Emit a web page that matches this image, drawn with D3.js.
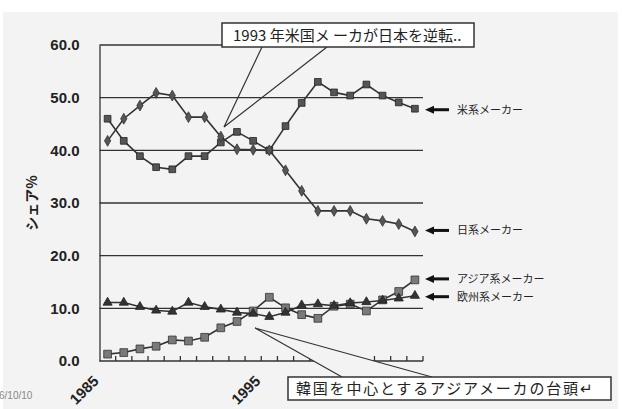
<!DOCTYPE html>
<html>
<head>
<meta charset="utf-8">
<script src="https://cdn.jsdelivr.net/npm/d3@7"></script>
<style>
  body { margin: 0; background: #fff; }
  svg text { font-family: "Liberation Sans", Arial, sans-serif; }
  .jp { font-family: "Noto Sans CJK JP", sans-serif; }
</style>
</head>
<body>
<div id="chart"></div>
<script>
// years on the category axis
var years = [1985, 1986, 1987, 1988, 1989, 1990, 1991, 1992, 1993, 1994,
             1995, 1996, 1997, 1998, 1999, 2000, 2001, 2002, 2003, 2004];
var yearLabels = {1985: "1985", 1995: "1995"};

// share (%) per maker group
var usShare     = [46.0, 41.8, 38.9, 36.8, 36.4, 38.9, 38.9, 41.5, 43.5, 41.8,
                   40.0, 44.6, 49.0, 53.0, 51.0, 50.4, 52.5, 50.4, 49.1, 47.9];
var japanShare  = [41.8, 46.0, 48.5, 50.9, 50.4, 46.3, 46.3, 42.6, 40.2, 40.1,
                   40.0, 36.2, 32.3, 28.5, 28.5, 28.5, 27.0, 26.6, 26.0, 24.6];
var asiaShare   = [1.3, 1.6, 2.3, 2.8, 4.0, 3.8, 4.5, 6.3, 7.5, 9.5,
                   12.1, 10.1, 8.8, 8.1, 10.4, 10.8, 9.5, 11.6, 13.2, 15.4];
var europeShare = [11.1, 11.1, 10.3, 9.6, 9.4, 11.1, 10.3, 9.8, 9.2, 9.0,
                   8.4, 9.2, 10.6, 10.8, 10.5, 11.0, 11.2, 11.5, 11.9, 12.4];

var yTicks = [0, 10, 20, 30, 40, 50, 60];

var seriesLabels = ["米系メーカー", "日系メーカー", "アジア系メーカー", "欧州系メーカー"];

var width = 622, height = 409;
var margin = {top: 45, right: 199, bottom: 48, left: 99.5};

var svg = d3.select("#chart").append("svg")
    .attr("width", width)
    .attr("height", height);

// light grey panel behind everything
svg.append("rect")
    .attr("x", 3).attr("y", 12)
    .attr("width", 615).attr("height", 397)
    .attr("fill", "#f3f3f3");

var x = d3.scaleBand()
    .domain(years)
    .range([margin.left, width - margin.right]);

var y = d3.scaleLinear()
    .domain([0, 60])
    .range([height - margin.bottom, margin.top]);

// horizontal grid lines
svg.append("g")
   .selectAll("line")
   .data(yTicks.filter(function(d) { return d > 0; }))
   .enter().append("line")
    .attr("x1", margin.left)
    .attr("x2", width - margin.right)
    .attr("y1", function(d) { return y(d); })
    .attr("y2", function(d) { return y(d); })
    .attr("stroke", "#333")
    .attr("stroke-width", 1.3);

// y axis
var yAxis = svg.append("g")
    .attr("transform", "translate(" + margin.left + ",0)")
    .call(d3.axisLeft(y).tickValues(yTicks).tickSize(0).tickPadding(20)
            .tickFormat(d3.format(".1f")));
yAxis.select(".domain").attr("stroke", "#333").attr("stroke-width", 1.3);
yAxis.selectAll("text")
    .attr("font-size", 15)
    .attr("font-weight", "bold")
    .attr("fill", "#222");

// x axis, ticks between categories pointing up
var xAxis = svg.append("g")
    .attr("transform", "translate(0," + y(0) + ")");
xAxis.append("line")
    .attr("x1", margin.left).attr("x2", width - margin.right)
    .attr("stroke", "#333").attr("stroke-width", 1.3);
xAxis.selectAll(".tk")
   .data(years)
   .enter().append("line")
    .attr("class", "tk")
    .attr("x1", function(d) { return x(d) + x.bandwidth(); })
    .attr("x2", function(d) { return x(d) + x.bandwidth(); })
    .attr("y1", 0).attr("y2", -5)
    .attr("stroke", "#333").attr("stroke-width", 1.3);
xAxis.selectAll(".lbl")
   .data(years.filter(function(d) { return yearLabels[d]; }))
   .enter().append("text")
    .attr("class", "lbl")
    .attr("text-anchor", "end")
    .attr("font-size", 15)
    .attr("font-weight", "bold")
    .attr("fill", "#222")
    .attr("transform", function(d) {
      return "translate(" + (x(d) + x.bandwidth() / 2 - 8) + ",21) rotate(-45)";
    })
    .text(function(d) { return yearLabels[d]; });

// y axis title
svg.append("text")
    .attr("class", "jp")
    .attr("transform", "translate(37,203) rotate(-90)")
    .attr("text-anchor", "middle")
    .attr("font-size", 14)
    .attr("font-weight", "bold")
    .attr("fill", "#222")
    .text("シェア%");

// callout 1 pointer (drawn under data)
svg.append("path")
    .attr("d", "M262,47 L224,127 L327,47")
    .attr("fill", "none")
    .attr("stroke", "#333")
    .attr("stroke-width", 1.2);

// series
var series = [
  {values: usShare,     symbol: d3.symbolSquare,   size: 45, fill: "#555", stroke: "#222"},
  {values: japanShare,  symbol: d3.symbolDiamond,  size: 34, fill: "#555", stroke: "#333"},
  {values: asiaShare,   symbol: d3.symbolSquare,   size: 60, fill: "#7a7a7a", stroke: "#333"},
  {values: europeShare, symbol: d3.symbolTriangle, size: 36, fill: "#333", stroke: "#222"}
];

var line = d3.line()
    .x(function(d, i) { return x(years[i]) + x.bandwidth() / 2; })
    .y(function(d) { return y(d); });

series.forEach(function(s) {
  var g = svg.append("g");
  g.append("path")
    .attr("d", line(s.values))
    .attr("fill", "none")
    .attr("stroke", "#333")
    .attr("stroke-width", 1.6);
  g.selectAll("path.mk")
   .data(s.values)
   .enter().append("path")
    .attr("class", "mk")
    .attr("d", d3.symbol().type(s.symbol).size(s.size))
    .attr("transform", function(d, i) {
      return "translate(" + (x(years[i]) + x.bandwidth() / 2) + "," + y(d) + ")";
    })
    .attr("fill", s.fill)
    .attr("stroke", s.stroke)
    .attr("stroke-width", 0.8);
});

// callout 1 box
svg.append("rect")
    .attr("x", 222).attr("y", 23)
    .attr("width", 252).attr("height", 24)
    .attr("fill", "#fff")
    .attr("stroke", "#333")
    .attr("stroke-width", 1.5);
svg.append("text")
    .attr("class", "jp")
    .attr("x", 233).attr("y", 41)
    .attr("font-size", 15)
    .attr("fill", "#222")
    .text("1993 年米国メ ーカが日本を逆転..");

// callout 2: wedge filled with the panel colour, then box
svg.append("path")
    .attr("d", "M342,377 L255,328 L432,377")
    .attr("fill", "#f3f3f3")
    .attr("stroke", "#333")
    .attr("stroke-width", 1.2);
svg.append("rect")
    .attr("x", 288).attr("y", 377)
    .attr("width", 323).attr("height", 23)
    .attr("fill", "#fff")
    .attr("stroke", "#333")
    .attr("stroke-width", 1.5);
svg.append("text")
    .attr("class", "jp")
    .attr("x", 296).attr("y", 394)
    .attr("font-size", 15)
    .attr("letter-spacing", 1.8)
    .attr("fill", "#222")
    .text("韓国を中心とするアジアメーカの台頭↵");

// arrows and labels at the right, placed at each series' last value
var lastIdx = years.length - 1;
var labelY = [y(usShare[lastIdx]) + 1, y(japanShare[lastIdx]) - 1,
              y(asiaShare[lastIdx]) - 1, y(europeShare[lastIdx]) + 1];

labelY.forEach(function(ly, i) {
  svg.append("line")
    .attr("x1", 432).attr("x2", 449)
    .attr("y1", ly).attr("y2", ly)
    .attr("stroke", "#111").attr("stroke-width", 3);
  svg.append("path")
    .attr("d", "M425," + ly + " L434," + (ly - 4) + " L434," + (ly + 4) + "Z")
    .attr("fill", "#111");
  svg.append("text")
    .attr("class", "jp")
    .attr("x", 457).attr("y", ly + 4)
    .attr("font-size", 11)
    .attr("fill", "#222")
    .text(seriesLabels[i]);
});

// date stamp at the lower left
svg.append("text")
    .attr("x", -1).attr("y", 399)
    .attr("font-size", 10)
    .attr("fill", "#888")
    .text("6/10/10");
</script>
</body>
</html>
